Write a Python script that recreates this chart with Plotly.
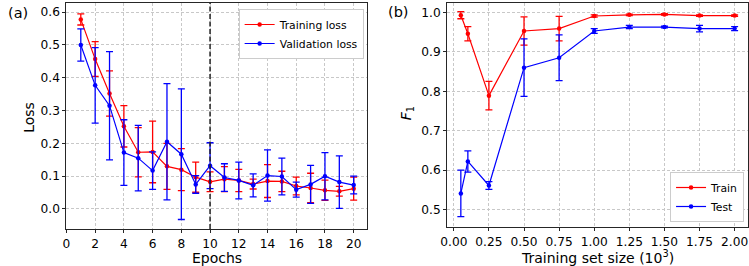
import plotly.graph_objects as go

# ---- data: panel (a) ----
epochs = list(range(1, 21))
train_loss = [0.578, 0.457, 0.352, 0.252, 0.173, 0.174, 0.130, 0.120, 0.097, 0.083,
              0.091, 0.087, 0.076, 0.085, 0.084, 0.070, 0.064, 0.057, 0.054, 0.062]
train_loss_err = [0.017, 0.053, 0.069, 0.063, 0.075, 0.094, 0.070, 0.064, 0.046, 0.030,
                  0.038, 0.034, 0.015, 0.050, 0.031, 0.027, 0.045, 0.031, 0.015, 0.035]
val_loss = [0.500, 0.377, 0.315, 0.172, 0.155, 0.117, 0.205, 0.167, 0.075, 0.132,
            0.096, 0.087, 0.072, 0.102, 0.099, 0.059, 0.075, 0.100, 0.082, 0.073]
val_loss_err = [0.049, 0.115, 0.165, 0.100, 0.100, 0.057, 0.177, 0.199, 0.027, 0.070,
                0.042, 0.056, 0.035, 0.078, 0.056, 0.023, 0.058, 0.072, 0.080, 0.027]
split_epoch = 10
x_ticks_a = list(range(0, 21, 2))
y_ticks_a = [0.0, 0.1, 0.2, 0.3, 0.4, 0.5, 0.6]

# ---- data: panel (b) ----
sizes = [0.05, 0.10, 0.25, 0.50, 0.75, 1.00, 1.25, 1.50, 1.75, 2.00]
train_f1 = [0.993, 0.946, 0.789, 0.953, 0.959, 0.991, 0.994, 0.995, 0.992, 0.992]
train_f1_err = [0.009, 0.018, 0.036, 0.036, 0.031, 0.003, 0.002, 0.002, 0.002, 0.002]
test_f1 = [0.541, 0.622, 0.561, 0.860, 0.885, 0.953, 0.963, 0.963, 0.959, 0.959]
test_f1_err = [0.059, 0.027, 0.010, 0.073, 0.058, 0.006, 0.004, 0.002, 0.008, 0.005]
x_ticks_b = [0.0, 0.25, 0.5, 0.75, 1.0, 1.25, 1.5, 1.75, 2.0]
y_ticks_b = [0.5, 0.6, 0.7, 0.8, 0.9, 1.0]

RED = "#ff0000"
BLUE = "#0000ff"
FONT = "DejaVu Sans"
W, H = 749, 266


def series(x, y, err, color, name, xa, ya, legend):
    return go.Scatter(
        x=x, y=y, name=name, mode="lines+markers",
        line=dict(color=color, width=1.2),
        marker=dict(color=color, size=4.5),
        error_y=dict(type="data", array=err, color=color, thickness=1.3, width=3.5),
        xaxis=xa, yaxis=ya, legend=legend,
    )


fig = go.Figure()
fig.add_trace(series(epochs, train_loss, train_loss_err, RED, "Training loss", "x", "y", "legend"))
fig.add_trace(series(epochs, val_loss, val_loss_err, BLUE, "Validation loss", "x", "y", "legend"))
fig.add_trace(series(sizes, train_f1, train_f1_err, RED, "Train", "x2", "y2", "legend2"))
fig.add_trace(series(sizes, test_f1, test_f1_err, BLUE, "Test", "x2", "y2", "legend2"))

axis_common = dict(
    showline=True, linecolor="#262626", linewidth=1.1, mirror=True,
    ticks="outside", ticklen=3, tickwidth=1, tickcolor="#262626",
    showgrid=True, gridcolor="#c8c8c8", griddash="3px,2px", gridwidth=0.8,
    zeroline=False, tickfont=dict(family=FONT, size=12.2, color="black"),
)

legend_common = dict(
    bgcolor="white", bordercolor="#cccccc", borderwidth=1,
    font=dict(family=FONT, size=10.8, color="black"), tracegroupgap=0, itemwidth=30,
)

fig.update_layout(
    width=W, height=H,
    margin=dict(l=0, r=0, t=0, b=0),
    paper_bgcolor="white", plot_bgcolor="white",
    font=dict(family=FONT, color="black"),
    xaxis=dict(domain=[60 / W, 363 / W], anchor="y", range=[0, 20.9],
               tickvals=x_ticks_a, **axis_common),
    yaxis=dict(domain=[1 - 229 / H, 1 - 3 / H], anchor="x", range=[-0.061, 0.628],
               tickvals=y_ticks_a, tickformat=".1f", **axis_common),
    xaxis2=dict(domain=[444.3 / W, 748.3 / W], anchor="y2", range=[-0.0475, 2.0975],
                tickvals=x_ticks_b, tickformat=".2f", **axis_common),
    yaxis2=dict(domain=[1 - 227.3 / H, 1 - 3 / H], anchor="x2", range=[0.455, 1.024],
                tickvals=y_ticks_b, tickformat=".1f", **axis_common),
    legend=dict(x=360 / W, y=1 - 9 / H, xanchor="right", yanchor="top", **legend_common),
    legend2=dict(x=744 / W, y=1 - 222 / H, xanchor="right", yanchor="bottom", **legend_common),
    showlegend=True,
)

fig.add_shape(type="line", x0=split_epoch, x1=split_epoch, y0=0, y1=1,
              xref="x", yref="y domain", line=dict(color="#222222", width=1.5, dash="5px,2.5px"))

ann = [
    dict(text="(a)", x=11 / W, y=1 - 13.5 / H, size=14.5, angle=0, ya="middle", ys=0),
    dict(text="(b)", x=395 / W, y=1 - 12 / H, size=14.5, angle=0, ya="middle", ys=0),
    dict(text="Loss", x=22 / W, y=1 - 117 / H, size=14, angle=-90, ya="middle", ys=0),
    dict(text="Epochs", x=211.7 / W, y=0, size=14, angle=0, ya="bottom", ys=-1.5),
    dict(text="<i>F</i><sub>1</sub>", x=404 / W, y=1 - 113 / H, size=14, angle=-90, ya="middle", ys=0),
    dict(text="Training set size (10<sup>3</sup>)", x=596 / W, y=0, size=14, angle=0, ya="bottom", ys=-1.5),
]
for a in ann:
    fig.add_annotation(text=a["text"], x=a["x"], y=a["y"], xref="paper", yref="paper",
                       xanchor="center", yanchor=a["ya"], yshift=a["ys"], showarrow=False,
                       textangle=a["angle"], font=dict(family=FONT, size=a["size"], color="black"))

fig.write_html("out.html")
